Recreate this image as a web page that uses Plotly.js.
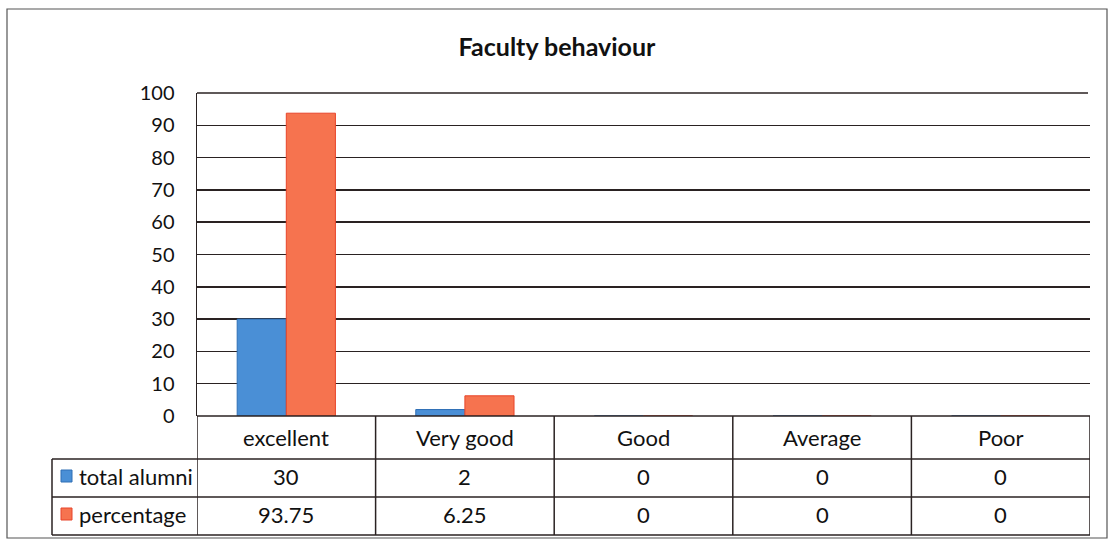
<!DOCTYPE html>
<html>
<head>
<meta charset="utf-8">
<script src="https://cdn.plot.ly/plotly-3.0.1.min.js"></script>
<style>
  body { margin: 0; background: #ffffff; }
  #grafica { width: 1111px; height: 541px; }
</style>
</head>
<body>
<div id="grafica"></div>
<script>
// data
const categorias = ['excellent', 'Very good', 'Good', 'Average', 'Poor'];
const totalAlumni = [30, 2, 0, 0, 0];
const porcentaje = [93.75, 6.25, 0, 0, 0];
const nombreSerie1 = 'total alumni', nombreSerie2 = 'percentage';
const colorAzul = '#4a8fd6', colorNaranja = '#f6734f';

const ancho = 1111, alto = 541;
const mIzq = 197, mDer = 21, mSup = 93, mInf = 125;
const altoPlot = alto - mSup - mInf, anchoPlot = ancho - mIzq - mDer;
const fuente = 'Lato, "Open Sans", sans-serif';

// pixel -> paper
const py = y => (alto - mInf - y) / altoPlot;
const px = x => (x - mIzq) / anchoPlot;

const lineaTabla = { color: '#2a2222', width: 1.5 };

const trazas = [
    {
        x: categorias, y: totalAlumni, name: nombreSerie1, type: 'bar',
        marker: { color: colorAzul, line: { color: '#2f6fb5', width: 1 } },
        hoverinfo: 'y'
    },
    {
        x: categorias, y: porcentaje, name: nombreSerie2, type: 'bar',
        marker: { color: colorNaranja, line: { color: '#e8452a', width: 1 } },
        hoverinfo: 'y'
    }
];

// filas de la tabla (pixeles)
const yCab = 437, yFila1 = 476, yFila2 = 514;
const yLin0 = 416, yLin1 = 459, yLin2 = 497, yLin3 = 535;

const shapes = [];
const annotations = [];

// linea superior (100)
shapes.push({ type: 'line', xref: 'paper', yref: 'paper', x0: 0, x1: px(1088), y0: 1, y1: 1, line: lineaTabla });
// bordes de la tabla
[yLin1, yLin2, yLin3].forEach(y => {
    shapes.push({ type: 'line', xref: 'paper', yref: 'paper', x0: px(52), x1: px(1090), y0: py(y), y1: py(y), line: lineaTabla });
});
shapes.push({ type: 'line', xref: 'paper', yref: 'paper', x0: 0, x1: px(1090), y0: py(yLin0), y1: py(yLin0), line: lineaTabla });
shapes.push({ type: 'line', xref: 'paper', yref: 'paper', x0: px(52), x1: px(52), y0: py(yLin1), y1: py(yLin3), line: lineaTabla });
for (let i = 0; i <= categorias.length; i++) {
    shapes.push({ type: 'line', xref: 'x', yref: 'paper', x0: i - 0.5, x1: i - 0.5, y0: py(yLin0), y1: py(yLin3), line: lineaTabla });
}
// marco exterior
shapes.push({ type: 'rect', xref: 'paper', yref: 'paper', x0: px(7), x1: px(1107), y0: py(9), y1: py(538), line: { color: '#555', width: 1.2 } });
// claves de leyenda
shapes.push({ type: 'rect', xref: 'paper', yref: 'paper', x0: px(61), x1: px(72), y0: py(yFila1 - 6), y1: py(yFila1 + 6), fillcolor: colorAzul, line: { color: '#2f6fb5', width: 1 } });
shapes.push({ type: 'rect', xref: 'paper', yref: 'paper', x0: px(61), x1: px(72), y0: py(yFila2 - 6), y1: py(yFila2 + 6), fillcolor: colorNaranja, line: { color: '#e8452a', width: 1 } });

const fuenteTabla = { family: fuente, size: 22, color: '#111' };
categorias.forEach((c, i) => {
    annotations.push({ x: c, xref: 'x', y: py(yCab), yref: 'paper', text: c, showarrow: false, font: fuenteTabla, xanchor: 'center', yanchor: 'middle' });
    annotations.push({ x: c, xref: 'x', y: py(yFila1), yref: 'paper', text: String(totalAlumni[i]), showarrow: false, font: fuenteTabla, xanchor: 'center', yanchor: 'middle' });
    annotations.push({ x: c, xref: 'x', y: py(yFila2), yref: 'paper', text: String(porcentaje[i]), showarrow: false, font: fuenteTabla, xanchor: 'center', yanchor: 'middle' });
});
annotations.push({ x: px(77), xref: 'paper', y: py(yFila1), yref: 'paper', text: nombreSerie1, showarrow: false, font: fuenteTabla, xanchor: 'left', yanchor: 'middle' });
annotations.push({ x: px(77), xref: 'paper', y: py(yFila2), yref: 'paper', text: nombreSerie2, showarrow: false, font: fuenteTabla, xanchor: 'left', yanchor: 'middle' });

const layout = {
    width: ancho,
    height: alto,
    margin: { l: mIzq, r: mDer, t: mSup, b: mInf },
    paper_bgcolor: '#ffffff',
    plot_bgcolor: '#ffffff',
    title: {
        text: '<b>Faculty behaviour</b>',
        font: { family: fuente, size: 25, color: '#111' },
        x: 557 / ancho, xref: 'container', xanchor: 'center',
        y: 1 - 47 / alto, yref: 'container', yanchor: 'middle'
    },
    showlegend: false,
    bargap: 0.45,
    bargroupgap: 0,
    xaxis: {
        type: 'category',
        range: [-0.5, categorias.length - 0.5],
        showticklabels: false,
        showgrid: false,
        zeroline: false,
        showline: false,
        fixedrange: true
    },
    yaxis: {
        range: [0, 100],
        dtick: 10,
        showgrid: true,
        gridcolor: '#2a2222',
        gridwidth: 1.5,
        zeroline: false,
        showline: true,
        linecolor: '#2a2222',
        linewidth: 1.5,
        ticks: '',
        ticklabelstandoff: 17,
        tickfont: { family: fuente, size: 20, color: '#111' },
        fixedrange: true
    },
    shapes: shapes,
    annotations: annotations
};

Plotly.newPlot('grafica', trazas, layout, { displayModeBar: false, staticPlot: true });
</script>
</body>
</html>
